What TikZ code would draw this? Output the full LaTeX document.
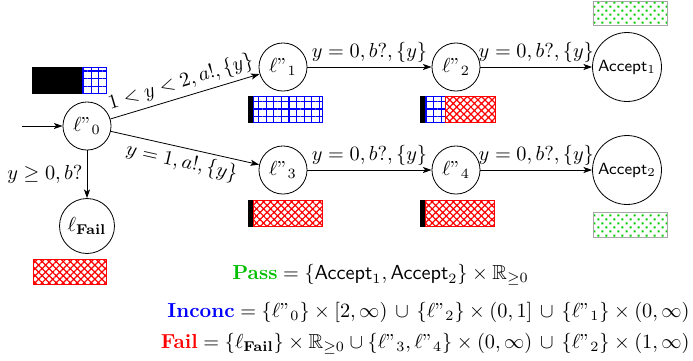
\documentclass[tikz,border=0pt]{standalone}
\usepackage{amssymb}
\usetikzlibrary{patterns.meta,arrows.meta}
\begin{document}
\begin{tikzpicture}[x=0.493pt,y=-0.493pt,
  >={Stealth[length=4.3pt,width=3pt,inset=1.1pt]},
  loc/.style={circle,draw,inner sep=0pt,minimum size=23.7pt},
  acc/.style={circle,draw,inner sep=0pt,minimum size=34pt,font=\footnotesize\sffamily},
  failloc/.style={circle,draw,inner sep=0pt,minimum size=27.1pt},
  blk/.style={fill=black,draw=black,line width=0.3pt},
  gridbar/.style={draw=blue,line width=0.4pt,pattern={Hatch[angle=0,distance=3.75pt,line width=0.6pt]},pattern color=blue},
  redbar/.style={draw=red,line width=0.4pt,pattern={Hatch[angle=45,distance=2.45pt,line width=0.6pt]},pattern color=red},
  greenbar/.style={draw=gray!70,line width=0.5pt,pattern={Dots[angle=45,distance=2.8pt,radius=0.7pt]},pattern color=green!80!black},
  lab/.style={inner sep=2pt}
]
\useasboundingbox (0,0) rectangle (693,360);

% locations
\node[loc] (l0) at (87,126) {$\ell"_0$};
\node[loc] (l1) at (283,67) {$\ell"_1$};
\node[loc] (l2) at (456,67) {$\ell"_2$};
\node[acc] (a1) at (627,67) {Accept$_1$};
\node[loc] (l3) at (283,170) {$\ell"_3$};
\node[loc] (l4) at (456,170) {$\ell"_4$};
\node[acc] (a2) at (627,170) {Accept$_2$};
\node[failloc] (lf) at (87,226) {$\ell_{\mathbf{Fail}}$};
\coordinate (init) at (22,126);

% edges
\draw[->] (init) -- (l0);
\draw[->] (l0) -- node[lab,sloped,above] {$1<y<2,a!,\{y\}$} (l1);
\draw[->] (l0) -- node[lab,sloped,below] {$y=1,a!,\{y\}$} (l3);
\draw[->] (l0) -- node[lab,left] {$y\geq 0,b?$} (lf);
\draw[->] (l1) -- node[lab,above] {$y=0,b?,\{y\}$} (l2);
\draw[->] (l2) -- node[lab,above] {$y=0,b?,\{y\}$} (a1);
\draw[->] (l3) -- node[lab,above] {$y=0,b?,\{y\}$} (l4);
\draw[->] (l4) -- node[lab,above] {$y=0,b?,\{y\}$} (a2);

% bars
\path[blk] (32,67) rectangle (82,93);
\path[gridbar] (82,67) rectangle (106,93);

\path[blk] (248,96) rectangle (253,122);
\path[gridbar] (253,96) rectangle (322,122);

\path[blk] (420,96) rectangle (425,122);
\path[gridbar] (425,96) rectangle (445,122);
\path[redbar] (445,96) rectangle (495,122);

\path[blk] (248,200) rectangle (253,226);
\path[redbar] (253,200) rectangle (322,226);

\path[blk] (420,200) rectangle (425,226);
\path[redbar] (425,200) rectangle (494,226);

\path[greenbar] (593,1) rectangle (667,25);
\path[greenbar] (593,212) rectangle (667,237);

\path[redbar] (33,259) rectangle (106,284);

% verdicts
\node[anchor=base west,inner sep=0pt] (pass) at (232,279)
  {$\textcolor{green!75!black}{\textbf{Pass}} = \{\textsf{Accept}_1,\textsf{Accept}_2\}\times\mathbb{R}_{\geq 0}$};
\node[anchor=base east,inner sep=0pt] (inc) at (690,317)
  {$\textcolor{blue}{\textbf{Inconc}} = \{\ell"_0\}\times[2,\infty)\,\cup\,\{\ell"_2\}\times(0,1]\,\cup\,\{\ell"_1\}\times(0,\infty)$};
\node[anchor=base east,inner sep=0pt] (fl) at (690,348)
  {$\textcolor{red}{\textbf{Fail}} = \{\ell_{\mathbf{Fail}}\}\times\mathbb{R}_{\geq 0}\cup\{\ell"_3,\ell"_4\}\times(0,\infty)\,\cup\,\{\ell"_2\}\times(1,\infty)$};
\end{tikzpicture}
\end{document}
